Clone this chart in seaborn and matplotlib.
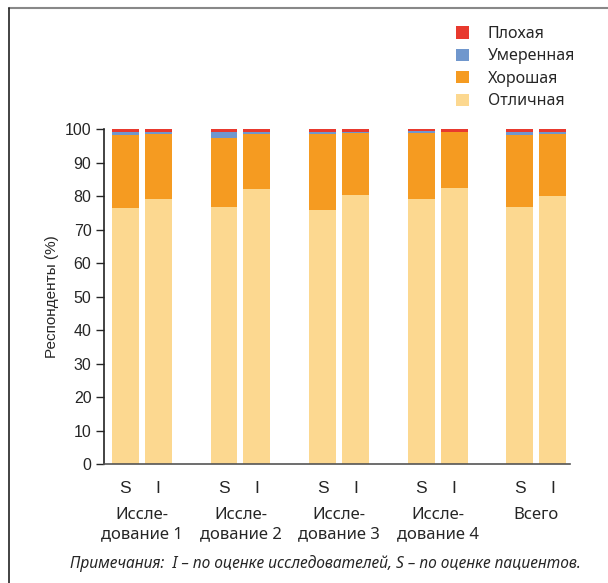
import matplotlib
matplotlib.use("Agg")
import matplotlib.pyplot as plt
import seaborn as sns
import pandas as pd
from matplotlib.patches import Patch
from matplotlib.lines import Line2D

# data: share of respondents (%) per rating, S = patients, I = investigators
bars = ["S1", "I1", "S2", "I2", "S3", "I3", "S4", "I4", "S5", "I5"]
bar_labels = ["S", "I", "S", "I", "S", "I", "S", "I", "S", "I"]
groups = ["Иссле-\nдование 1", "Иссле-\nдование 2", "Иссле-\nдование 3",
          "Иссле-\nдование 4", "Всего"]
excellent = [76.5, 79.2, 76.8, 82.0, 75.9, 80.4, 79.2, 82.4, 76.8, 80.0]
good = [21.7, 19.3, 20.6, 16.6, 22.6, 18.3, 19.5, 16.7, 21.4, 18.5]
moderate = [0.9, 0.7, 1.6, 0.6, 0.7, 0.5, 0.6, 0.1, 0.9, 0.7]
poor = [0.9, 0.8, 1.0, 0.8, 0.8, 0.8, 0.7, 0.8, 0.9, 0.8]

ratings = ["Плохая", "Умеренная", "Хорошая", "Отличная"]
colors = {"Плохая": "#e8392e", "Умеренная": "#7097cd",
          "Хорошая": "#f59b21", "Отличная": "#fcd890"}

# slots with empty gaps between the study pairs
order = []
for i in range(5):
    order += [bars[2 * i], bars[2 * i + 1]]
    if i < 4:
        order.append(f"gap{i}")

frame = pd.DataFrame({"bar": bars, "Отличная": excellent, "Хорошая": good,
                      "Умеренная": moderate, "Плохая": poor})
frame["c_exc"] = frame["Отличная"]
frame["c_good"] = frame["c_exc"] + frame["Хорошая"]
frame["c_mod"] = frame["c_good"] + frame["Умеренная"]
frame["c_poor"] = frame["c_mod"] + frame["Плохая"]

sns.set_theme(style="ticks")
plt.rcParams["font.family"] = ["Noto Sans", "DejaVu Sans"]

fig = plt.figure(figsize=(6.08, 5.83), dpi=100)
ax = fig.add_axes([0.171, 0.204, 0.7664, 0.5746])

for col, name in [("c_poor", "Плохая"), ("c_mod", "Умеренная"),
                  ("c_good", "Хорошая"), ("c_exc", "Отличная")]:
    sns.barplot(data=frame, x="bar", y=col, order=order, color=colors[name],
                saturation=1, width=0.82, ax=ax, errorbar=None, linewidth=0)

ax.set_ylim(0, 100)
ax.set_xlim(-0.65, 13.52)
ax.set_yticks(range(0, 101, 10))
ax.tick_params(axis="y", length=6, width=1, labelsize=11.5, pad=3,
               labelfontfamily="Liberation Sans")
pos = [order.index(b) for b in bars]
ax.set_xticks(pos)
ax.set_xticklabels(bar_labels, fontsize=12.5, family="Liberation Sans")
ax.tick_params(axis="x", length=0, pad=12)
ax.set_xlabel("")
ax.set_ylabel("Респонденты (%)", fontsize=11, labelpad=4,
              family="Liberation Sans")

for side in ["top", "right"]:
    ax.spines[side].set_visible(False)
ax.spines["left"].set_color("#222222")
ax.spines["bottom"].set_color("#555555")
ax.spines["left"].set_linewidth(1.2)
ax.spines["bottom"].set_linewidth(1.2)

trans = ax.get_xaxis_transform()
for i, g in enumerate(groups):
    xc = (pos[2 * i] + pos[2 * i + 1]) / 2
    ax.text(xc, -0.128, g, transform=trans, ha="center", va="top",
            fontsize=12, linespacing=1.3)

fig.text(0.535, 0.034, "Примечания:  I – по оценке исследователей, S – по оценке пациентов.",
         ha="center", va="center", fontsize=11.2, style="italic")

handles = [Patch(facecolor=colors[r], edgecolor="none") for r in ratings]
fig.legend(handles, ratings, loc="upper left", bbox_to_anchor=(0.726, 0.98),
           frameon=False, fontsize=11.5, handlelength=0.8, handleheight=0.8,
           handletextpad=1.2, labelspacing=0.4)

# frame around the figure block
fig.add_artist(Line2D([9 / 608, 1], [1 - 8 / 583, 1 - 8 / 583],
                      color="#888888", lw=1.5, transform=fig.transFigure))
fig.add_artist(Line2D([9 / 608, 9 / 608], [0, 1 - 8 / 583],
                      color="#222222", lw=1.2, transform=fig.transFigure))

fig.savefig("out.png", dpi=100)
